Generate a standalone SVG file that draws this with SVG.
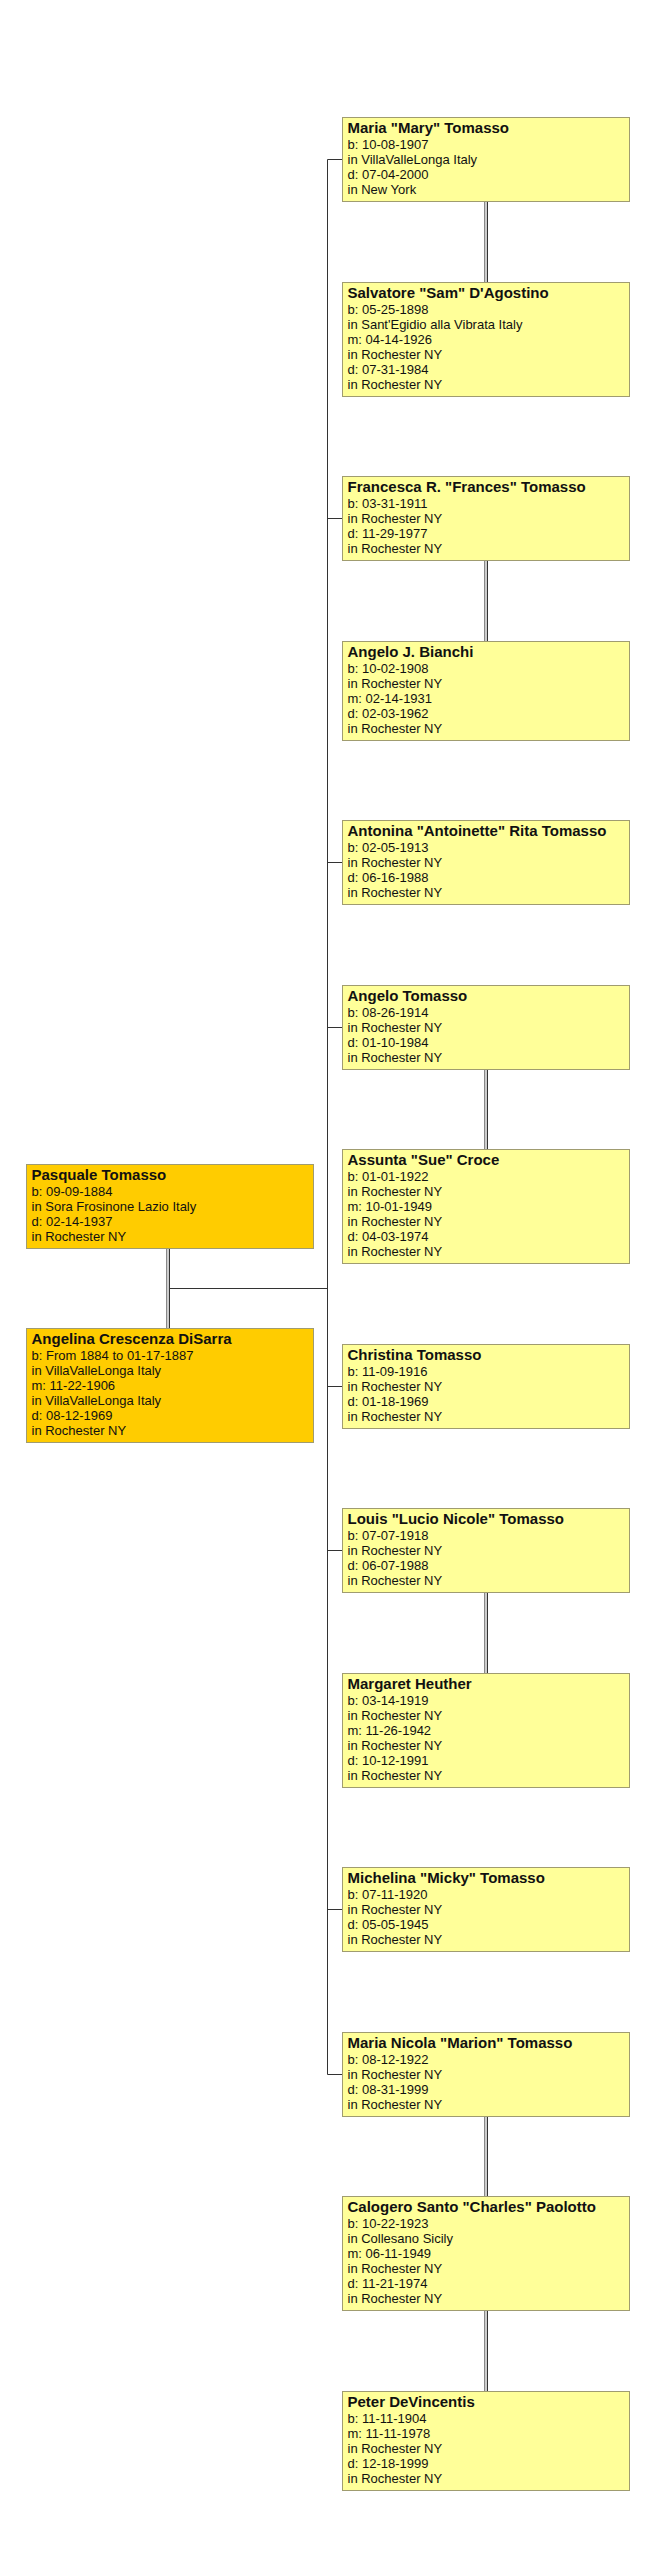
<svg xmlns="http://www.w3.org/2000/svg" width="655" height="2560" viewBox="0 0 655 2560">
<style>
.box{fill:#FFFF99;stroke:#A09C70;stroke-width:1}
.pbox{fill:#FFCC00;stroke:#A09C70;stroke-width:1}
.t{font-family:"Liberation Sans",Arial,sans-serif;font-size:15px;font-weight:bold;fill:#111}
.d{font-family:"Liberation Sans",Arial,sans-serif;font-size:13px;fill:#111}
.ln{stroke:#333;stroke-width:1;fill:none}
.dl1{stroke:#888;stroke-width:1}
.dl2{stroke:#333;stroke-width:1}
.dl3{stroke:#ccc;stroke-width:2}
</style>
<rect width="655" height="2560" fill="#fff"/>
<g id="connectors">
<path class="ln" d="M327.5,159.5V2074.5"/>
<path class="ln" d="M327.5,159.5H342M327.5,518.5H342M327.5,862.5H342M327.5,1027.5H342M327.5,1386.5H342M327.5,1550.5H342M327.5,1909.5H342M327.5,2074.5H342"/>
<path class="ln" d="M170,1288.5H327.5"/>
<g id="marriage-lines">
<path class="dl3" d="M486,201V282M486,560V641M486,1069V1149M486,1592V1673M486,2116V2196M486,2310V2391M168,1248V1328"/>
<path class="dl1" d="M484.5,201V282M484.5,560V641M484.5,1069V1149M484.5,1592V1673M484.5,2116V2196M484.5,2310V2391M166.5,1248V1328"/>
<path class="dl2" d="M487.5,201V282M487.5,560V641M487.5,1069V1149M487.5,1592V1673M487.5,2116V2196M487.5,2310V2391M169.5,1248V1328"/>
</g>
</g>
<g id="pasquale" transform="translate(26,1164)">
<rect class="pbox" x="0.5" y="0.5" width="287" height="84"/>
<text class="t" x="5.5" y="16">Pasquale Tomasso</text>
<text class="d" x="5.5" y="31.5">b: 09-09-1884</text>
<text class="d" x="5.5" y="46.5">in Sora Frosinone Lazio Italy</text>
<text class="d" x="5.5" y="61.5">d: 02-14-1937</text>
<text class="d" x="5.5" y="76.5">in Rochester NY</text>
</g>
<g id="angelina" transform="translate(26,1328)">
<rect class="pbox" x="0.5" y="0.5" width="287" height="114"/>
<text class="t" x="5.5" y="16">Angelina Crescenza DiSarra</text>
<text class="d" x="5.5" y="31.5">b: From 1884 to 01-17-1887</text>
<text class="d" x="5.5" y="46.5">in VillaValleLonga Italy</text>
<text class="d" x="5.5" y="61.5">m: 11-22-1906</text>
<text class="d" x="5.5" y="76.5">in VillaValleLonga Italy</text>
<text class="d" x="5.5" y="91.5">d: 08-12-1969</text>
<text class="d" x="5.5" y="106.5">in Rochester NY</text>
</g>
<g id="maria-mary" transform="translate(342,117)">
<rect class="box" x="0.5" y="0.5" width="287" height="84"/>
<text class="t" x="5.5" y="16">Maria "Mary" Tomasso</text>
<text class="d" x="5.5" y="31.5">b: 10-08-1907</text>
<text class="d" x="5.5" y="46.5">in VillaValleLonga Italy</text>
<text class="d" x="5.5" y="61.5">d: 07-04-2000</text>
<text class="d" x="5.5" y="76.5">in New York</text>
</g>
<g id="salvatore" transform="translate(342,282)">
<rect class="box" x="0.5" y="0.5" width="287" height="114"/>
<text class="t" x="5.5" y="16">Salvatore "Sam" D'Agostino</text>
<text class="d" x="5.5" y="31.5">b: 05-25-1898</text>
<text class="d" x="5.5" y="46.5">in Sant'Egidio alla Vibrata Italy</text>
<text class="d" x="5.5" y="61.5">m: 04-14-1926</text>
<text class="d" x="5.5" y="76.5">in Rochester NY</text>
<text class="d" x="5.5" y="91.5">d: 07-31-1984</text>
<text class="d" x="5.5" y="106.5">in Rochester NY</text>
</g>
<g id="francesca" transform="translate(342,476)">
<rect class="box" x="0.5" y="0.5" width="287" height="84"/>
<text class="t" x="5.5" y="16">Francesca R. "Frances" Tomasso</text>
<text class="d" x="5.5" y="31.5">b: 03-31-1911</text>
<text class="d" x="5.5" y="46.5">in Rochester NY</text>
<text class="d" x="5.5" y="61.5">d: 11-29-1977</text>
<text class="d" x="5.5" y="76.5">in Rochester NY</text>
</g>
<g id="angelo-bianchi" transform="translate(342,641)">
<rect class="box" x="0.5" y="0.5" width="287" height="99"/>
<text class="t" x="5.5" y="16">Angelo J. Bianchi</text>
<text class="d" x="5.5" y="31.5">b: 10-02-1908</text>
<text class="d" x="5.5" y="46.5">in Rochester NY</text>
<text class="d" x="5.5" y="61.5">m: 02-14-1931</text>
<text class="d" x="5.5" y="76.5">d: 02-03-1962</text>
<text class="d" x="5.5" y="91.5">in Rochester NY</text>
</g>
<g id="antonina" transform="translate(342,820)">
<rect class="box" x="0.5" y="0.5" width="287" height="84"/>
<text class="t" x="5.5" y="16">Antonina "Antoinette" Rita Tomasso</text>
<text class="d" x="5.5" y="31.5">b: 02-05-1913</text>
<text class="d" x="5.5" y="46.5">in Rochester NY</text>
<text class="d" x="5.5" y="61.5">d: 06-16-1988</text>
<text class="d" x="5.5" y="76.5">in Rochester NY</text>
</g>
<g id="angelo-tomasso" transform="translate(342,985)">
<rect class="box" x="0.5" y="0.5" width="287" height="84"/>
<text class="t" x="5.5" y="16">Angelo Tomasso</text>
<text class="d" x="5.5" y="31.5">b: 08-26-1914</text>
<text class="d" x="5.5" y="46.5">in Rochester NY</text>
<text class="d" x="5.5" y="61.5">d: 01-10-1984</text>
<text class="d" x="5.5" y="76.5">in Rochester NY</text>
</g>
<g id="assunta" transform="translate(342,1149)">
<rect class="box" x="0.5" y="0.5" width="287" height="114"/>
<text class="t" x="5.5" y="16">Assunta "Sue" Croce</text>
<text class="d" x="5.5" y="31.5">b: 01-01-1922</text>
<text class="d" x="5.5" y="46.5">in Rochester NY</text>
<text class="d" x="5.5" y="61.5">m: 10-01-1949</text>
<text class="d" x="5.5" y="76.5">in Rochester NY</text>
<text class="d" x="5.5" y="91.5">d: 04-03-1974</text>
<text class="d" x="5.5" y="106.5">in Rochester NY</text>
</g>
<g id="christina" transform="translate(342,1344)">
<rect class="box" x="0.5" y="0.5" width="287" height="84"/>
<text class="t" x="5.5" y="16">Christina Tomasso</text>
<text class="d" x="5.5" y="31.5">b: 11-09-1916</text>
<text class="d" x="5.5" y="46.5">in Rochester NY</text>
<text class="d" x="5.5" y="61.5">d: 01-18-1969</text>
<text class="d" x="5.5" y="76.5">in Rochester NY</text>
</g>
<g id="louis" transform="translate(342,1508)">
<rect class="box" x="0.5" y="0.5" width="287" height="84"/>
<text class="t" x="5.5" y="16">Louis "Lucio Nicole" Tomasso</text>
<text class="d" x="5.5" y="31.5">b: 07-07-1918</text>
<text class="d" x="5.5" y="46.5">in Rochester NY</text>
<text class="d" x="5.5" y="61.5">d: 06-07-1988</text>
<text class="d" x="5.5" y="76.5">in Rochester NY</text>
</g>
<g id="margaret" transform="translate(342,1673)">
<rect class="box" x="0.5" y="0.5" width="287" height="114"/>
<text class="t" x="5.5" y="16">Margaret Heuther</text>
<text class="d" x="5.5" y="31.5">b: 03-14-1919</text>
<text class="d" x="5.5" y="46.5">in Rochester NY</text>
<text class="d" x="5.5" y="61.5">m: 11-26-1942</text>
<text class="d" x="5.5" y="76.5">in Rochester NY</text>
<text class="d" x="5.5" y="91.5">d: 10-12-1991</text>
<text class="d" x="5.5" y="106.5">in Rochester NY</text>
</g>
<g id="michelina" transform="translate(342,1867)">
<rect class="box" x="0.5" y="0.5" width="287" height="84"/>
<text class="t" x="5.5" y="16">Michelina "Micky" Tomasso</text>
<text class="d" x="5.5" y="31.5">b: 07-11-1920</text>
<text class="d" x="5.5" y="46.5">in Rochester NY</text>
<text class="d" x="5.5" y="61.5">d: 05-05-1945</text>
<text class="d" x="5.5" y="76.5">in Rochester NY</text>
</g>
<g id="maria-nicola" transform="translate(342,2032)">
<rect class="box" x="0.5" y="0.5" width="287" height="84"/>
<text class="t" x="5.5" y="16">Maria Nicola "Marion" Tomasso</text>
<text class="d" x="5.5" y="31.5">b: 08-12-1922</text>
<text class="d" x="5.5" y="46.5">in Rochester NY</text>
<text class="d" x="5.5" y="61.5">d: 08-31-1999</text>
<text class="d" x="5.5" y="76.5">in Rochester NY</text>
</g>
<g id="calogero" transform="translate(342,2196)">
<rect class="box" x="0.5" y="0.5" width="287" height="114"/>
<text class="t" x="5.5" y="16">Calogero Santo "Charles" Paolotto</text>
<text class="d" x="5.5" y="31.5">b: 10-22-1923</text>
<text class="d" x="5.5" y="46.5">in Collesano Sicily</text>
<text class="d" x="5.5" y="61.5">m: 06-11-1949</text>
<text class="d" x="5.5" y="76.5">in Rochester NY</text>
<text class="d" x="5.5" y="91.5">d: 11-21-1974</text>
<text class="d" x="5.5" y="106.5">in Rochester NY</text>
</g>
<g id="peter" transform="translate(342,2391)">
<rect class="box" x="0.5" y="0.5" width="287" height="99"/>
<text class="t" x="5.5" y="16">Peter DeVincentis</text>
<text class="d" x="5.5" y="31.5">b: 11-11-1904</text>
<text class="d" x="5.5" y="46.5">m: 11-11-1978</text>
<text class="d" x="5.5" y="61.5">in Rochester NY</text>
<text class="d" x="5.5" y="76.5">d: 12-18-1999</text>
<text class="d" x="5.5" y="91.5">in Rochester NY</text>
</g>
</svg>
